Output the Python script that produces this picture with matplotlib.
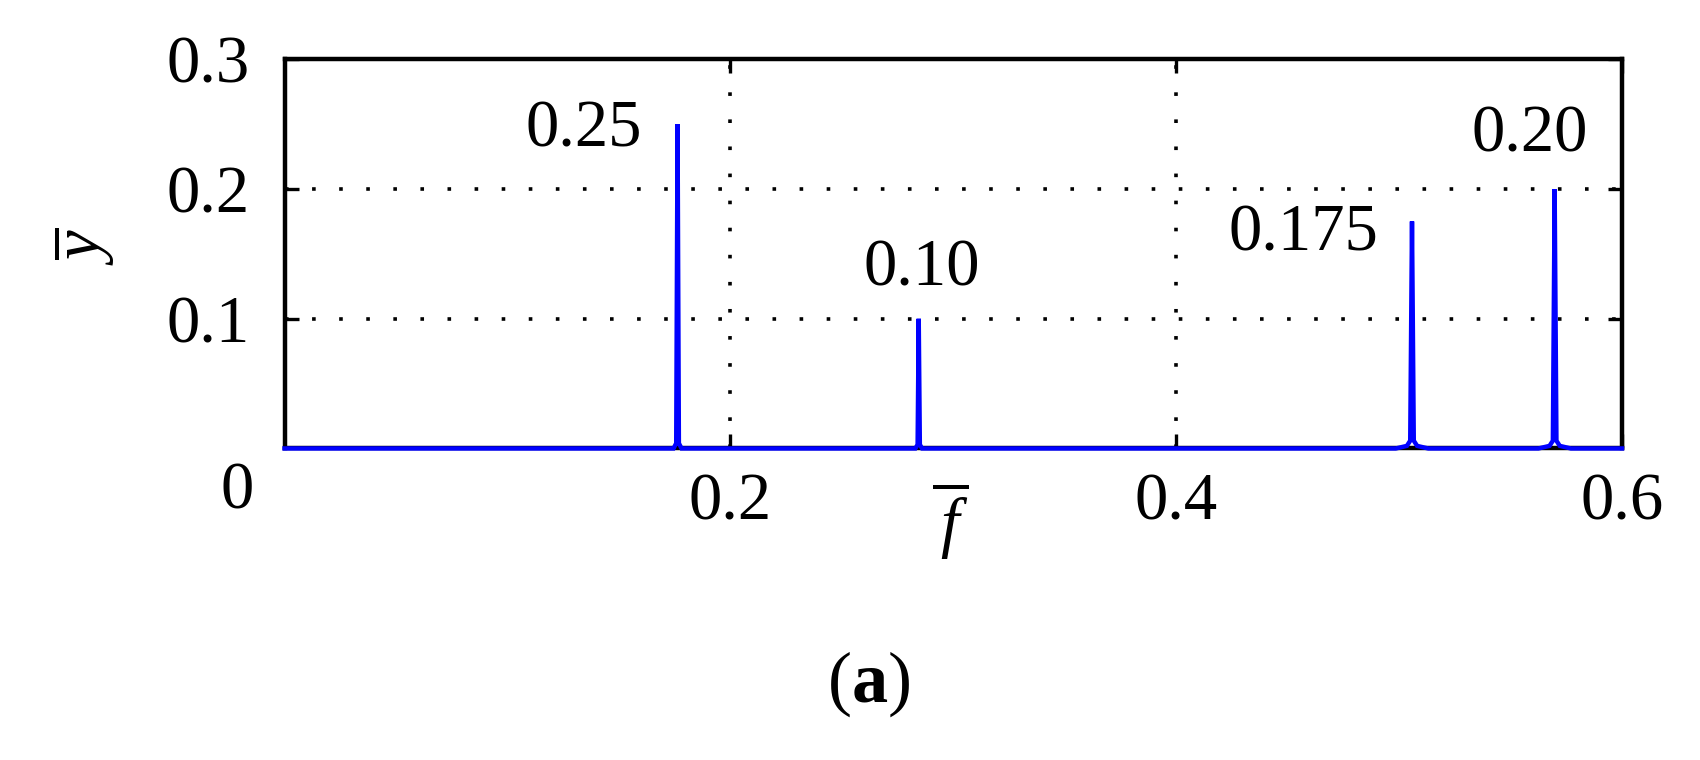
import matplotlib
matplotlib.use("Agg")
import matplotlib.pyplot as plt

# ---- data ----
freq = [0.0, 0.1745, 0.1757, 0.1763, 0.1769, 0.1781,
        0.2830, 0.2840, 0.2845, 0.2850, 0.2860,
        0.4985, 0.5035, 0.5050, 0.5058, 0.5066, 0.5081, 0.5131,
        0.5625, 0.5675, 0.5690, 0.5698, 0.5706, 0.5721, 0.5771, 0.6]
amp = [0.0, 0.0, 0.004, 0.25, 0.004, 0.0,
       0.0, 0.003, 0.10, 0.003, 0.0,
       0.0, 0.002, 0.006, 0.175, 0.006, 0.002, 0.0,
       0.0, 0.002, 0.006, 0.20, 0.006, 0.002, 0.0, 0.0]

peak_labels = ["0.25", "0.10", "0.175", "0.20"]
label_x = [0.1603, 0.2857, 0.4907, 0.5587]
label_y = [0.2324, 0.1260, 0.1525, 0.2293]
label_ha = ["right", "center", "right", "center"]

xticks = [0.2, 0.4, 0.6]
xtick_labels = ["0.2", "0.4", "0.6"]
yticks = [0.1, 0.2, 0.3]
ytick_labels = ["0.1", "0.2", "0.3"]

# ---- style ----
plt.rcParams['font.family'] = ['Liberation Serif', 'DejaVu Serif']
plt.rcParams['mathtext.fontset'] = 'custom'
plt.rcParams['mathtext.rm'] = 'Liberation Serif'
plt.rcParams['mathtext.it'] = 'Liberation Serif:italic'
plt.rcParams['mathtext.bf'] = 'Liberation Serif:bold'
FS = 48

fig = plt.figure(figsize=(17, 7.6), dpi=100)
ax = fig.add_axes([0.1674, 0.4099, 0.7867, 0.5121])

ax.plot(freq, amp, color='#0000ff', lw=3.2, zorder=3, clip_on=False,
        solid_joinstyle='miter')

ax.set_xlim(0, 0.6)
ax.set_ylim(0, 0.3)
ax.set_xticks(xticks)
ax.set_xticklabels(xtick_labels)
ax.set_yticks(yticks)
ax.set_yticklabels(ytick_labels)

ax.tick_params(axis='both', direction='in', length=10, width=2.4,
               labelsize=FS, top=True, right=True)
ax.tick_params(axis='x', pad=17)
ax.tick_params(axis='y', pad=25)

for s in ax.spines.values():
    s.set_linewidth(3.2)
    s.set_color('black')

ax.grid(True, color='black', linestyle=(0, (1, 6.5)), linewidth=2.6)
ax.set_axisbelow(True)

for t, x, y, ha in zip(peak_labels, label_x, label_y, label_ha):
    ax.text(x, y, t, ha=ha, va='baseline', fontsize=FS)

# origin label, axis labels and panel label
fig.text(0.1394, 0.3303, "0", ha='center', va='baseline', fontsize=FS)
fig.text(0.5588, 0.283, r'$\overline{\,f\,}$', ha='center', va='baseline', fontsize=FS)
fig.text(0.0488, 0.676, r'$\overline{y}$', ha='center', va='center',
         rotation=90, fontsize=FS)
fig.text(0.511, 0.0763, r'$(\mathbf{a})$', ha='center', va='baseline', fontsize=52)

fig.savefig("out.png", dpi=100)
